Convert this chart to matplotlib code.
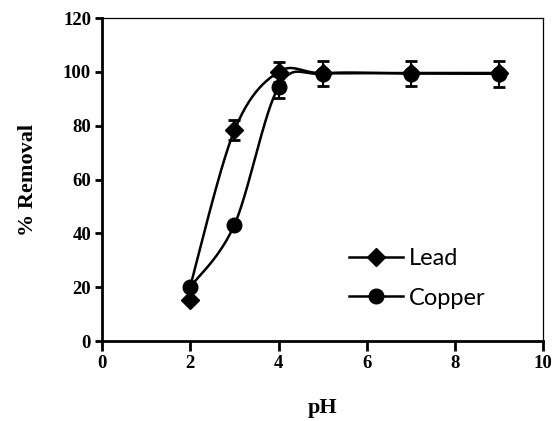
import numpy as np
import matplotlib
matplotlib.use("Agg")
import matplotlib.pyplot as plt

ph = [2, 3, 4, 5, 7, 9]
lead = [15.3, 78.3, 100.0, 99.5, 99.6, 99.6]
lead_err = [0, 3.7, 3.8, 0, 0, 0]
# the smoothed lead line in the picture starts at the copper point
lead_line = [20.5, 78.3, 100.0, 99.5, 99.6, 99.6]
copper = [20.1, 43.2, 94.4, 99.4, 99.4, 99.3]
copper_err = [0, 0, 4.2, 4.8, 4.8, 4.8]


def smooth(xs, ys, n=40):
    # excel-like smoothed line (catmull-rom as bezier)
    p = np.column_stack([xs, ys]).astype(float)
    p = np.vstack([p[0], p, p[-1]])
    out = []
    for i in range(1, len(p) - 2):
        b0 = p[i]
        b3 = p[i + 1]
        b1 = b0 + (p[i + 1] - p[i - 1]) / 6
        b2 = b3 - (p[i + 2] - p[i]) / 6
        t = np.linspace(0, 1, n)[:, None]
        out.append((1 - t) ** 3 * b0 + 3 * (1 - t) ** 2 * t * b1 + 3 * (1 - t) * t ** 2 * b2 + t ** 3 * b3)
    c = np.vstack(out)
    return c[:, 0], c[:, 1]


fig = plt.figure(figsize=(5.52, 4.21), dpi=100)
ax = fig.add_axes([0.185, 0.19, 0.799, 0.767])

serif = {"family": ["Liberation Serif", "DejaVu Serif"], "weight": "bold", "size": 13.5}
serif_lab = dict(serif, size=16)

series = [(lead, lead_line, lead_err, "D", 9, "Lead"),
          (copper, copper, copper_err, "o", 10.5, "Copper")]
for y, yl, err, mk, ms, lab in series:
    sx, sy = smooth(ph, yl)
    ax.plot(sx, sy, color="black", lw=1.8, zorder=2)
    ax.errorbar(ph, y, yerr=err, fmt="none", ecolor="black", elinewidth=1.5,
                capsize=4, capthick=2, zorder=3)
    ax.plot(ph, y, ls="none", marker=mk, ms=ms, color="black", zorder=4)
    ax.plot([], [], color="black", lw=1.8, marker=mk, ms=ms, label=lab)

ax.set_xlim(0, 10)
ax.set_ylim(0, 120)
ax.set_xticks(range(0, 11, 2))
ax.set_yticks(range(0, 121, 20))

for s in ["left", "bottom"]:
    ax.spines[s].set_linewidth(2.0)
for s in ["top", "right"]:
    ax.spines[s].set_linewidth(0.9)

ax.tick_params(axis="y", direction="out", length=5, width=2, pad=3)
ax.tick_params(axis="x", direction="out", length=7, width=2, pad=3)
for t in ax.get_xticklabels() + ax.get_yticklabels():
    t.set_fontproperties(serif)

ax.set_xlabel("pH", fontdict=serif_lab, labelpad=19)
ax.set_ylabel("% Removal", fontdict=serif_lab, labelpad=18)

ax.legend(loc="upper left", bbox_to_anchor=(0.532, 0.325), frameon=False,
          prop={"family": "Lato", "size": 17}, handlelength=2.3,
          handletextpad=0.25, labelspacing=0.8, borderpad=0)

fig.savefig("out.png", dpi=100)
